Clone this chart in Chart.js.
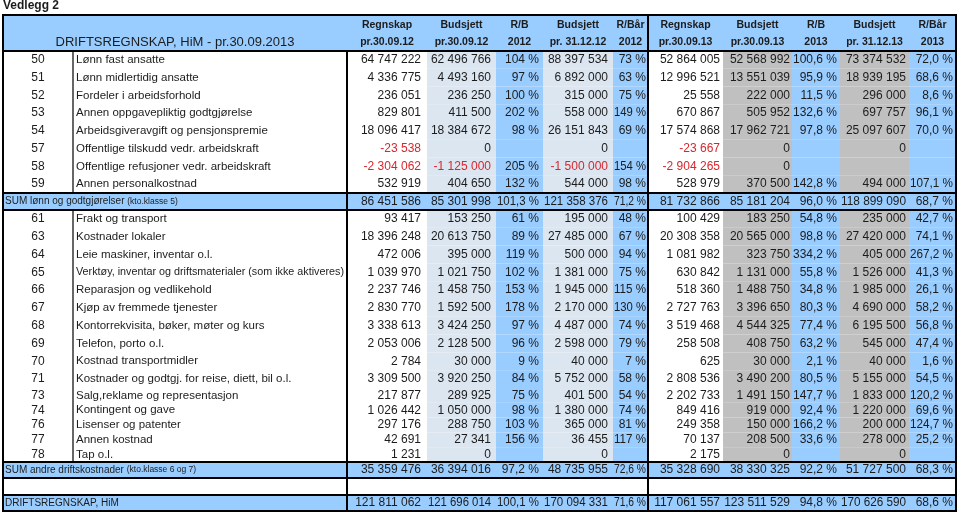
<!DOCTYPE html>
<html lang="no">
<head>
  <meta charset="UTF-8" />
  <meta name="viewport" content="width=device-width, initial-scale=1.0" />
  <title>Vedlegg 2 - Driftsregnskap HiM</title>
  <style>
    body {
      margin: 0;
      background: #fff;
    }
    .wrap {
      width: 960px;
      height: 516px;
      position: relative;
    }
  </style>
</head>
<body>
  <div class="wrap">
    <canvas id="driftChart"></canvas>
  </div>

  <script src="https://cdn.jsdelivr.net/npm/chart.js"></script>
  <script>
    // ---- data ----
    const headerTop = ['Regnskap', 'Budsjett', 'R/B', 'Budsjett', 'R/Bår', 'Regnskap', 'Budsjett', 'R/B', 'Budsjett', 'R/Bår'];
    const headerBottom = ['pr.30.09.12', 'pr.30.09.12', '2012', 'pr. 31.12.12', '2012', 'pr.30.09.13', 'pr.30.09.13', '2013', 'pr. 31.12.13', '2013'];

    // d = konto line, s = sum line, e = blank line
    const rowKind = ['d','d','d','d','d','d','d','d','s','d','d','d','d','d','d','d','d','d','d','d','d','d','d','d','s','e','s'];
    const rowKto = ['50','51','52','53','54','57','58','59','','61','63','64','65','66','67','68','69','70','71','73','74','76','77','78','','',''];
    const rowLabel = [
      'Lønn fast ansatte', 'Lønn midlertidig ansatte', 'Fordeler i arbeidsforhold', 'Annen oppgavepliktig godtgjørelse',
      'Arbeidsgiveravgift og pensjonspremie', 'Offentlige tilskudd vedr. arbeidskraft', 'Offentlige refusjoner vedr. arbeidskraft',
      'Annen personalkostnad', 'SUM lønn og godtgjørelser',
      'Frakt og transport', 'Kostnader lokaler', 'Leie maskiner, inventar o.l.',
      'Verktøy, inventar og driftsmaterialer (som ikke aktiveres)', 'Reparasjon og vedlikehold', 'Kjøp av fremmede tjenester',
      'Kontorrekvisita, bøker, møter og kurs', 'Telefon, porto o.l.', 'Kostnad transportmidler',
      'Kostnader og godtgj. for reise, diett, bil o.l.', 'Salg,reklame og representasjon', 'Kontingent og gave',
      'Lisenser og patenter', 'Annen kostnad', 'Tap o.l.', 'SUM andre driftskostnader', '', 'DRIFTSREGNSKAP, HiM'
    ];
    const rowNote = ['','','','','','','','','(kto.klasse 5)','','','','','','','','','','','','','','','','(kto.klasse 6 og 7)','',''];

    const regnskap2012 = [64747222, 4336775, 236051, 829801, 18096417, -23538, -2304062, 532919, 86451586,
      93417, 18396248, 472006, 1039970, 2237746, 2830770, 3338613, 2053006, 2784, 3309500, 217877, 1026442, 297176, 42691, 1231,
      35359476, null, 121811062];
    const budsjett2012 = [62496766, 4493160, 236250, 411500, 18384672, 0, -1125000, 404650, 85301998,
      153250, 20613750, 395000, 1021750, 1458750, 1592500, 3424250, 2128500, 30000, 3920250, 289925, 1050000, 288750, 27341, 0,
      36394016, null, 121696014];
    const rb2012 = [104, 97, 100, 202, 98, null, 205, 132, 101.3,
      61, 89, 119, 102, 153, 178, 97, 96, 9, 84, 75, 98, 103, 156, null,
      97.2, null, 100.1];
    const aarsbudsjett2012 = [88397534, 6892000, 315000, 558000, 26151843, 0, -1500000, 544000, 121358376,
      195000, 27485000, 500000, 1381000, 1945000, 2170000, 4487000, 2598000, 40000, 5752000, 401500, 1380000, 365000, 36455, 0,
      48735955, null, 170094331];
    const rbaar2012 = [73, 63, 75, 149, 69, null, 154, 98, 71.2,
      48, 67, 94, 75, 115, 130, 74, 79, 7, 58, 54, 74, 81, 117, null,
      72.6, null, 71.6];

    const regnskap2013 = [52864005, 12996521, 25558, 670867, 17574868, -23667, -2904265, 528979, 81732866,
      100429, 20308358, 1081982, 630842, 518360, 2727763, 3519468, 258508, 625, 2808536, 2202733, 849416, 249358, 70137, 2175,
      35328690, null, 117061557];
    const budsjett2013 = [52568992, 13551039, 222000, 505952, 17962721, 0, 0, 370500, 85181204,
      183250, 20565000, 323750, 1131000, 1488750, 3396650, 4544325, 408750, 30000, 3490200, 1491150, 919000, 150000, 208500, 0,
      38330325, null, 123511529];
    const rb2013 = [100.6, 95.9, 11.5, 132.6, 97.8, null, null, 142.8, 96.0,
      54.8, 98.8, 334.2, 55.8, 34.8, 80.3, 77.4, 63.2, 2.1, 80.5, 147.7, 92.4, 166.2, 33.6, null,
      92.2, null, 94.8];
    const aarsbudsjett2013 = [73374532, 18939195, 296000, 697757, 25097607, 0, null, 494000, 118899090,
      235000, 27420000, 405000, 1526000, 1985000, 4690000, 6195500, 545000, 40000, 5155000, 1833000, 1220000, 200000, 278000, 0,
      51727500, null, 170626590];
    const rbaar2013 = [72.0, 68.6, 8.6, 96.1, 70.0, null, null, 107.1, 68.7,
      42.7, 74.1, 267.2, 41.3, 26.1, 58.2, 56.8, 47.4, 1.6, 54.5, 120.2, 69.6, 124.7, 25.2, null,
      68.3, null, 68.6];

    // ---- layout (scale units = pixels of the sheet) ----
    const BLUE = '#99ccff';
    const PALE = '#dce6f1';
    const GREY = '#c0c0c0';
    const INK = '#1c1c1c';
    const RED = '#d8262c';
    const FONT = '"Liberation Sans", Arial, sans-serif';

    const colEdges = [3, 73, 347, 427, 496, 543, 613, 648, 723, 792, 840, 909, 956];
    const columns = [
      { data: regnskap2012, pct: false, fill: null, pad: 6 },
      { data: budsjett2012, pct: false, fill: PALE, pad: 5 },
      { data: rb2012, pct: true, dec12: true, fill: BLUE, pad: 4 },
      { data: aarsbudsjett2012, pct: false, fill: PALE, pad: 5 },
      { data: rbaar2012, pct: true, dec12: true, fill: BLUE, pad: 2 },
      { data: regnskap2013, pct: false, fill: null, pad: 3 },
      { data: budsjett2013, pct: false, fill: GREY, pad: 2 },
      { data: rb2013, pct: true, fill: BLUE, pad: 3 },
      { data: aarsbudsjett2013, pct: false, fill: GREY, pad: 3 },
      { data: rbaar2013, pct: true, fill: BLUE, pad: 3 }
    ];

    function spread(a, b, n) {
      const out = [];
      for (let i = 0; i < n; i++) out.push(a + (b - a) * i / n);
      return out;
    }
    // top edge of every row, plus the bottom of the last one
    const rowEdges = [].concat(
      spread(51, 193, 8), [193],
      spread(210, 388, 10), spread(388, 462, 5),
      [462, 478, 495, 511]
    );

    function fmtNum(v) {
      if (v === null || v === undefined) return '';
      const s = Math.round(Math.abs(v)).toString().replace(/\B(?=(\d{3})+(?!\d))/g, ' ');
      return (v < 0 ? '-' : '') + s;
    }
    function fmtPct(v, dec) {
      if (v === null || v === undefined) return '';
      return v.toFixed(dec).replace('.', ',') + ' %';
    }

    const tablePlugin = {
      id: 'tablePlugin',
      afterDraw(chart) {
        const { ctx } = chart;
        const X = v => chart.scales.x.getPixelForValue(v);
        const Y = v => chart.scales.y.getPixelForValue(v);
        const L = colEdges[0], R = colEdges[colEdges.length - 1];

        ctx.save();
        ctx.textBaseline = 'middle';

        // title above the table
        ctx.fillStyle = INK;
        ctx.font = 'bold 12px ' + FONT;
        ctx.textAlign = 'left';
        ctx.fillText('Vedlegg 2', X(3), Y(6));

        // header band
        ctx.fillStyle = BLUE;
        ctx.fillRect(X(L), Y(15), X(R) - X(L), Y(51) - Y(15));
        ctx.fillStyle = INK;
        ctx.font = '13px ' + FONT;
        ctx.textAlign = 'center';
        ctx.fillText('DRIFTSREGNSKAP, HiM - pr.30.09.2013', X(175), Y(42));
        ctx.font = 'bold 10.5px ' + FONT;
        headerTop.forEach((t, i) => {
          const cx = X((colEdges[i + 2] + colEdges[i + 3]) / 2);
          ctx.fillText(t, cx, Y(25));
          ctx.fillText(headerBottom[i], cx, Y(42));
        });

        // row backgrounds
        rowKind.forEach((kind, r) => {
          const y0 = Y(rowEdges[r]), y1 = Y(rowEdges[r + 1]);
          if (kind === 's') {
            ctx.fillStyle = BLUE;
            ctx.fillRect(X(L), y0, X(R) - X(L), y1 - y0);
          } else if (kind === 'd') {
            columns.forEach((col, c) => {
              if (!col.fill) return;
              ctx.fillStyle = col.fill;
              ctx.fillRect(X(colEdges[c + 2]), y0, X(colEdges[c + 3]) - X(colEdges[c + 2]), y1 - y0);
            });
          }
        });

        // row texts
        rowKind.forEach((kind, r) => {
          if (kind === 'e') return;
          const cy = Y((rowEdges[r] + rowEdges[r + 1]) / 2);
          ctx.fillStyle = INK;
          ctx.textAlign = 'left';
          if (kind === 'd') {
            ctx.font = '12px ' + FONT;
            ctx.textAlign = 'center';
            ctx.fillText(rowKto[r], X(38), cy);
            ctx.textAlign = 'left';
            ctx.font = '11.5px ' + FONT;
            ctx.fillText(rowLabel[r], X(76), cy, X(344) - X(76));
          } else {
            ctx.font = '10px ' + FONT;
            ctx.fillText(rowLabel[r], X(5), cy);
            if (rowNote[r]) {
              const w = ctx.measureText(rowLabel[r] + ' ').width;
              ctx.font = '8.5px ' + FONT;
              ctx.fillText(rowNote[r], X(5) + w, cy);
            }
          }
          ctx.textAlign = 'right';
          ctx.font = '12px ' + FONT;
          columns.forEach((col, c) => {
            const v = col.data[r];
            if (v === null || v === undefined) return;
            const txt = col.pct ? fmtPct(v, col.dec12 && kind === 'd' ? 0 : 1) : fmtNum(v);
            ctx.fillStyle = v < 0 ? RED : INK;
            const right = X(colEdges[c + 3]) - col.pad;
            ctx.fillText(txt, right, cy, X(colEdges[c + 3]) - X(colEdges[c + 2]) - col.pad - 1);
          });
        });

        // grid lines
        ctx.strokeStyle = '#000';
        ctx.lineWidth = 2;
        const hLine = y => { ctx.beginPath(); ctx.moveTo(X(L) - 1, Y(y)); ctx.lineTo(X(R) + 1, Y(y)); ctx.stroke(); };
        const vLine = (x, a, b, w) => { ctx.lineWidth = w; ctx.beginPath(); ctx.moveTo(X(x), Y(a)); ctx.lineTo(X(x), Y(b)); ctx.stroke(); };
        [15, 51, 193, 210, 462, 478, 495, 511].forEach(hLine);
        vLine(L, 15, 511, 2);
        vLine(R, 15, 511, 2);
        vLine(347, 51, 511, 2);
        vLine(648, 15, 511, 2);
        vLine(73, 51, 193, 1.2);
        vLine(73, 210, 462, 1.2);
        ctx.restore();
      }
    };

    new Chart(document.getElementById('driftChart'), {
      type: 'scatter',
      data: { datasets: [{ data: [] }] },
      options: {
        responsive: true,
        maintainAspectRatio: false,
        animation: false,
        layout: { padding: 0 },
        plugins: { legend: { display: false }, tooltip: { enabled: false } },
        scales: {
          x: { type: 'linear', min: 0, max: 960, display: false },
          y: { type: 'linear', min: 0, max: 516, reverse: true, display: false }
        }
      },
      plugins: [tablePlugin]
    });
  </script>
</body>
</html>
